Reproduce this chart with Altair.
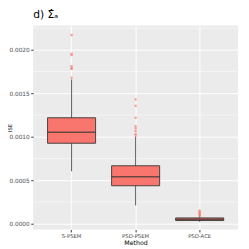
import altair as alt
import pandas as pd

methods = ["S-PSEM", "PSD-PSEM", "PSD-ACE"]
lower = [0.000603, 0.00021, 0.000022]
q1 = [0.000926, 0.000437, 0.000037]
median = [0.001052, 0.000541, 0.000052]
q3 = [0.001219, 0.000667, 0.000067]
upper = [0.00166, 0.001003, 0.000082]

out_s = [0.00217, 0.001956, 0.00194, 0.001814, 0.001792, 0.001781, 0.00168]
out_p = [0.00143, 0.001356, 0.001219, 0.001122, 0.001097, 0.001067, 0.001033, 0.001014]
out_a = [0.000152, 0.000138, 0.000125, 0.000112, 0.0001, 0.000088]

major_ticks = [0.0, 0.0005, 0.001, 0.0015, 0.002]
minor_ticks = [0.00025, 0.00075, 0.00125, 0.00175, 0.00225]

boxes = pd.DataFrame(dict(method=methods, lower=lower, q1=q1, median=median, q3=q3, upper=upper))
outs = pd.DataFrame(
    [("S-PSEM", v) for v in out_s] + [("PSD-PSEM", v) for v in out_p] + [("PSD-ACE", v) for v in out_a],
    columns=["method", "value"],
)
minor = pd.DataFrame(dict(v=minor_ticks))

yscale = alt.Scale(domain=[-0.0000667, 0.00228], nice=False, zero=False)
xscale = alt.Scale(domain=methods, paddingInner=0.25, paddingOuter=0.225)

xaxis = alt.Axis(
    title="Method", bandPosition=0.5, grid=True, gridColor="white", gridWidth=1,
    labelAngle=0, labelFontSize=5.5, labelColor="#4D4D4D", tickColor="#333333",
    tickSize=2.5, domain=False, titleFontSize=6.5, titlePadding=1.5, labelPadding=1.5,
    titleColor="black", titleFontWeight="normal", labelFont="DejaVu Sans", titleFont="DejaVu Sans",
)
yaxis = alt.Axis(
    title="ISE", values=major_ticks, format=".4f", grid=True, gridColor="white", gridWidth=1,
    labelFontSize=6, labelColor="#4D4D4D", tickColor="#333333", tickSize=2.5, domain=False,
    titleFontSize=5.5, titleX=-24.5, titleBaseline="middle", labelPadding=1.5,
    titleColor="black", titleFontWeight="normal",
    labelFont="DejaVu Sans", titleFont="DejaVu Sans",
)

X = alt.X("method:N", scale=xscale, axis=xaxis, sort=methods)

grid_minor = alt.Chart(minor).mark_rule(color="white", strokeWidth=0.5).encode(
    y=alt.Y("v:Q", scale=yscale, axis=yaxis)
)
whisk = alt.Chart(boxes).mark_rule(color="#333333", strokeWidth=0.8).encode(
    x=X, y=alt.Y("lower:Q", scale=yscale, axis=yaxis), y2="upper:Q"
)
box = alt.Chart(boxes).mark_bar(fill="#F8766D", stroke="#333333", strokeWidth=0.9).encode(
    x=X, y=alt.Y("q1:Q", scale=yscale, axis=yaxis), y2="q3:Q"
)
med = alt.Chart(boxes).mark_tick(color="#333333", thickness=1.6, size=49.7).encode(
    x=X, y=alt.Y("median:Q", scale=yscale, axis=yaxis)
)
pts = alt.Chart(outs).mark_square(color="#F8766D", opacity=0.7, size=5).encode(
    x=X, y=alt.Y("value:Q", scale=yscale, axis=yaxis)
)

chart = (
    alt.layer(grid_minor, whisk, box, med, pts)
    .properties(
        width=212, height=211,
        title=alt.TitleParams("d) Σ̂ₐ", anchor="start", frame="group", fontSize=11,
                              fontWeight="normal", font="DejaVu Sans", color="black", offset=6),
        autosize=alt.AutoSizeParams(type="none"),
        padding={"left": 26, "top": 14, "right": 3, "bottom": 16},
    )
    .configure_view(fill="#EBEBEB", stroke=None)
)

chart.save("out.html", embed_options={"renderer": "svg", "actions": False})
